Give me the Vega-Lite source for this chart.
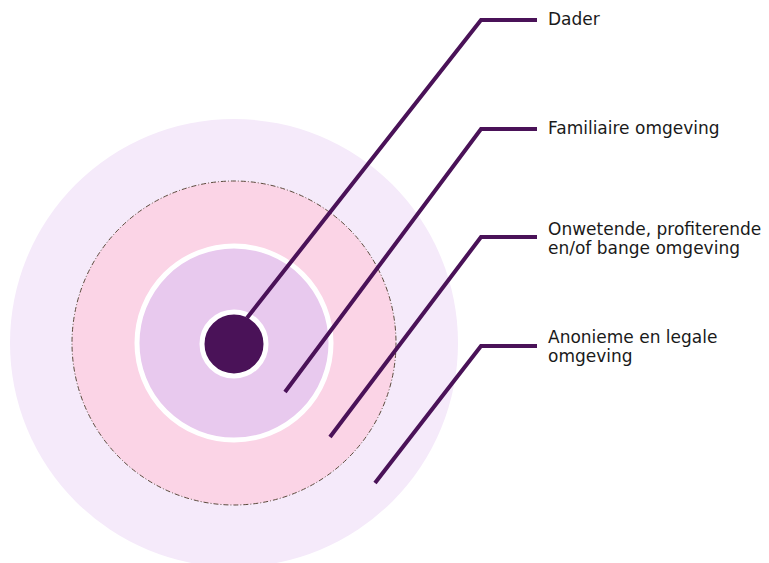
{
  "$schema": "https://vega.github.io/schema/vega-lite/v6.json",
  "width": 769,
  "height": 563,
  "autosize": {"type": "none"},
  "padding": 0,
  "background": "white",
  "config": {"view": {"stroke": null}},
  "datasets": {
    "rings": [
      {"ring": "Anonieme en legale omgeving", "cx": 234, "cy": 343, "r": 224},
      {"ring": "Onwetende, profiterende en/of bange omgeving", "cx": 234, "cy": 343, "r": 162},
      {"ring": "Familiaire omgeving", "cx": 234, "cy": 343, "r": 97},
      {"ring": "Dader", "cx": 234, "cy": 344, "r": 32}
    ],
    "leaders": [
      {"ring": "Dader", "i": 0, "x": 247, "y": 318},
      {"ring": "Dader", "i": 1, "x": 481, "y": 20},
      {"ring": "Dader", "i": 2, "x": 537, "y": 20},
      {"ring": "Familiaire omgeving", "i": 0, "x": 285, "y": 392},
      {"ring": "Familiaire omgeving", "i": 1, "x": 481, "y": 129},
      {"ring": "Familiaire omgeving", "i": 2, "x": 537, "y": 129},
      {"ring": "Onwetende", "i": 0, "x": 330, "y": 437},
      {"ring": "Onwetende", "i": 1, "x": 481, "y": 237},
      {"ring": "Onwetende", "i": 2, "x": 537, "y": 237},
      {"ring": "Anonieme", "i": 0, "x": 375, "y": 483},
      {"ring": "Anonieme", "i": 1, "x": 481, "y": 346},
      {"ring": "Anonieme", "i": 2, "x": 537, "y": 346}
    ],
    "labels": [
      {"label": "Dader", "x": 548, "y": 20},
      {"label": "Familiaire omgeving", "x": 548, "y": 129},
      {"label": "Onwetende, profiterende\nen/of bange omgeving", "x": 548, "y": 230},
      {"label": "Anonieme en legale\nomgeving", "x": 548, "y": 338}
    ]
  },
  "layer": [
    {
      "data": {"name": "rings"},
      "transform": [{"filter": "datum.r == 224"}],
      "mark": {"type": "point", "shape": "circle", "filled": true, "fill": "#F5EAFA", "opacity": 1, "strokeWidth": 0},
      "encoding": {
        "x": {"field": "cx", "type": "quantitative", "scale": {"domain": [0, 769], "range": [0, 769]}, "axis": null},
        "y": {"field": "cy", "type": "quantitative", "scale": {"domain": [0, 563], "range": [0, 563]}, "axis": null},
        "size": {"field": "r", "type": "quantitative", "scale": {"type": "pow", "exponent": 2, "domain": [0, 224], "range": [0, 200704]}, "legend": null}
      }
    },
    {
      "data": {"name": "rings"},
      "transform": [{"filter": "datum.r == 162"}],
      "mark": {"type": "point", "shape": "circle", "filled": true, "fill": "#FBD4E6", "opacity": 1, "stroke": "#5b4a3c", "strokeWidth": 1, "strokeDash": [5, 2, 1, 2]},
      "encoding": {
        "x": {"field": "cx", "type": "quantitative", "scale": {"domain": [0, 769], "range": [0, 769]}, "axis": null},
        "y": {"field": "cy", "type": "quantitative", "scale": {"domain": [0, 563], "range": [0, 563]}, "axis": null},
        "size": {"field": "r", "type": "quantitative", "scale": {"type": "pow", "exponent": 2, "domain": [0, 224], "range": [0, 200704]}, "legend": null}
      }
    },
    {
      "data": {"name": "rings"},
      "transform": [{"filter": "datum.r == 97"}],
      "mark": {"type": "point", "shape": "circle", "filled": true, "fill": "#E8C9EE", "opacity": 1, "stroke": "white", "strokeWidth": 5},
      "encoding": {
        "x": {"field": "cx", "type": "quantitative", "scale": {"domain": [0, 769], "range": [0, 769]}, "axis": null},
        "y": {"field": "cy", "type": "quantitative", "scale": {"domain": [0, 563], "range": [0, 563]}, "axis": null},
        "size": {"field": "r", "type": "quantitative", "scale": {"type": "pow", "exponent": 2, "domain": [0, 224], "range": [0, 200704]}, "legend": null}
      }
    },
    {
      "data": {"name": "rings"},
      "transform": [{"filter": "datum.r == 32"}],
      "mark": {"type": "point", "shape": "circle", "filled": true, "fill": "#4A1258", "opacity": 1, "stroke": "white", "strokeWidth": 5},
      "encoding": {
        "x": {"field": "cx", "type": "quantitative", "scale": {"domain": [0, 769], "range": [0, 769]}, "axis": null},
        "y": {"field": "cy", "type": "quantitative", "scale": {"domain": [0, 563], "range": [0, 563]}, "axis": null},
        "size": {"field": "r", "type": "quantitative", "scale": {"type": "pow", "exponent": 2, "domain": [0, 224], "range": [0, 200704]}, "legend": null}
      }
    },
    {
      "data": {"name": "leaders"},
      "mark": {"type": "line", "color": "#4A1258", "strokeWidth": 4, "strokeJoin": "miter", "strokeCap": "butt"},
      "encoding": {
        "x": {"field": "x", "type": "quantitative", "scale": {"domain": [0, 769], "range": [0, 769]}, "axis": null},
        "y": {"field": "y", "type": "quantitative", "scale": {"domain": [0, 563], "range": [0, 563]}, "axis": null},
        "detail": {"field": "ring"},
        "order": {"field": "i", "type": "quantitative"}
      }
    },
    {
      "data": {"name": "labels"},
      "mark": {"type": "text", "align": "left", "baseline": "middle", "font": "DejaVu Sans", "fontSize": 17, "color": "#1a1a1a", "lineBreak": "\n", "lineHeight": 19},
      "encoding": {
        "x": {"field": "x", "type": "quantitative", "scale": {"domain": [0, 769], "range": [0, 769]}, "axis": null},
        "y": {"field": "y", "type": "quantitative", "scale": {"domain": [0, 563], "range": [0, 563]}, "axis": null},
        "text": {"field": "label"}
      }
    }
  ]
}
